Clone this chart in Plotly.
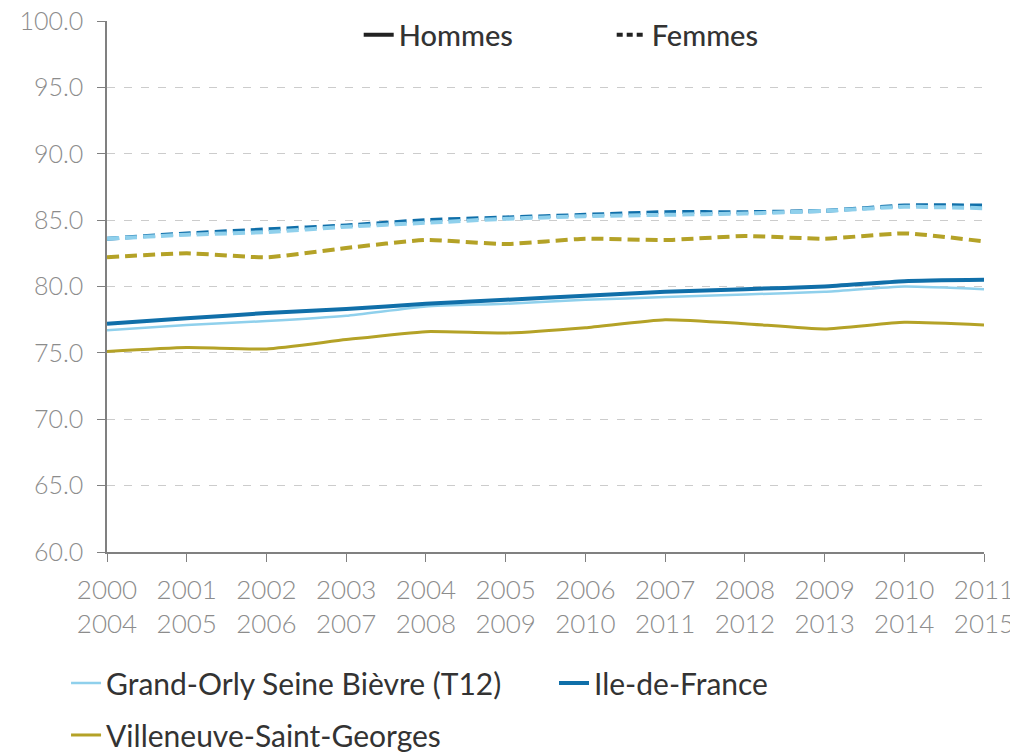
import plotly.graph_objects as go

periods = ["2000<br>2004", "2001<br>2005", "2002<br>2006", "2003<br>2007", "2004<br>2008",
           "2005<br>2009", "2006<br>2010", "2007<br>2011", "2008<br>2012", "2009<br>2013",
           "2010<br>2014", "2011<br>2015"]
xpos = list(range(len(periods)))

idf_f = [83.6, 84.0, 84.3, 84.6, 85.0, 85.2, 85.4, 85.6, 85.6, 85.7, 86.1, 86.1]
gosb_f = [83.6, 83.9, 84.1, 84.5, 84.8, 85.1, 85.3, 85.4, 85.5, 85.7, 86.0, 85.9]
vsg_f = [82.2, 82.5, 82.2, 82.9, 83.5, 83.2, 83.6, 83.5, 83.8, 83.6, 84.0, 83.4]

idf_h = [77.2, 77.6, 78.0, 78.3, 78.7, 79.0, 79.3, 79.6, 79.8, 80.0, 80.4, 80.5]
gosb_h = [76.7, 77.1, 77.4, 77.8, 78.5, 78.7, 79.0, 79.2, 79.4, 79.6, 80.0, 79.8]
vsg_h = [75.1, 75.4, 75.3, 76.0, 76.6, 76.5, 76.9, 77.5, 77.2, 76.8, 77.3, 77.1]

yticks = [60, 65, 70, 75, 80, 85, 90, 95, 100]

C_LIGHT = "#8fd0ec"
C_DARK = "#106fa9"
C_OLIVE = "#b4a227"
FONT = "Lato"
TICKC = "#8c8c8c"

fig = go.Figure()

def add(y, color, width, dash, name, legend, show):
    fig.add_trace(go.Scatter(x=xpos, y=y, mode="lines", name=name,
                             line=dict(color=color, width=width, dash=dash, shape="spline", smoothing=0.5),
                             legend=legend, showlegend=show, hoverinfo="skip"))

add(idf_f, C_DARK, 4, "12px,6px", "Ile-de-France", "legend", False)
add(gosb_f, C_LIGHT, 4, "12px,6px", "Grand-Orly Seine Bièvre (T12)", "legend", False)
add(vsg_f, C_OLIVE, 4, "12px,6px", "Villeneuve-Saint-Georges", "legend", False)
add(gosb_h, C_LIGHT, 2.5, "solid", "Grand-Orly Seine Bièvre (T12)", "legend", True)
add(idf_h, C_DARK, 4, "solid", "Ile-de-France", "legend4", True)
add(vsg_h, C_OLIVE, 3, "solid", "Villeneuve-Saint-Georges", "legend3", True)

# top legend (Hommes / Femmes)
fig.add_trace(go.Scatter(x=[None], y=[None], mode="lines", name="Hommes",
                         line=dict(color="#222222", width=4), legend="legend2"))
fig.add_trace(go.Scatter(x=[None], y=[None], mode="lines", name="Femmes",
                         line=dict(color="#222222", width=4, dash="6px,4px"), legend="legend2"))

LEG_FONT = dict(size=30, color="#333333", family=FONT)
common = dict(orientation="h", xanchor="left", yanchor="middle", bgcolor="rgba(0,0,0,0)", font=LEG_FONT)

fig.update_layout(
    width=1010, height=747,
    margin=dict(l=99, r=34, t=13, b=203, autoexpand=False),
    paper_bgcolor="white", plot_bgcolor="white",
    font=dict(family=FONT, color="#333333"),
    legend=dict(x=-0.0467, y=-0.2467, **common),
    legend4=dict(x=0.5097, y=-0.2467, **common),
    legend3=dict(x=-0.0467, y=-0.3446, **common),
    legend2=dict(orientation="h", x=0.287, xanchor="left", y=0.9736, yanchor="middle",
                 font=dict(size=29, color="#333333", family=FONT, weight=500),
                 entrywidth=208, bgcolor="rgba(0,0,0,0)"),
    xaxis=dict(range=[0, 11], tickvals=xpos, ticktext=periods, showgrid=False, automargin=False,
               showline=True, linecolor="#808080", linewidth=1.5, ticklabeloverflow="allow",
               ticks="outside", ticklen=8, tickcolor="#808080", ticklabelstandoff=6,
               tickfont=dict(size=26, color=TICKC, family=FONT, weight=300), zeroline=False),
    yaxis=dict(range=[60, 100], tickvals=yticks, ticktext=[f"{v:.1f}" for v in yticks],
               automargin=False, ticklabeloverflow="allow",
               showgrid=True, gridcolor="#cccccc", griddash="8px,9px", gridwidth=1,
               showline=True, linecolor="#808080", linewidth=1.5,
               ticks="outside", ticklen=8, tickcolor="#808080", ticklabelstandoff=9,
               tickfont=dict(size=25, color=TICKC, family=FONT, weight=300), zeroline=False),
)

fig.write_html("out.html")
